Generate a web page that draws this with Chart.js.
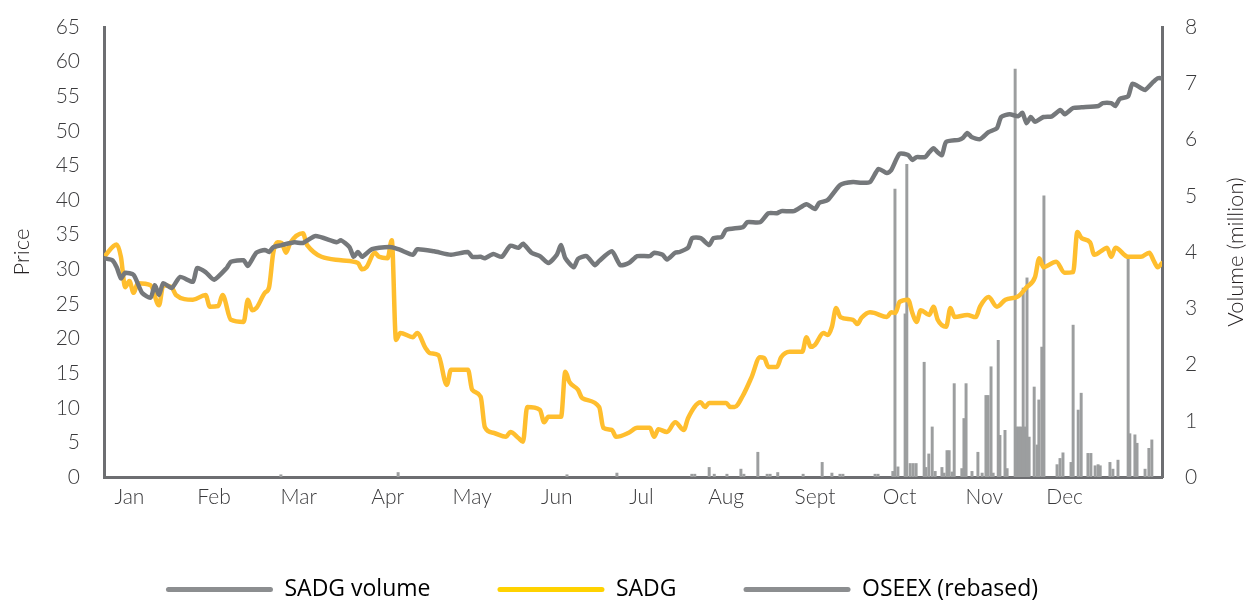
<!DOCTYPE html>
<html>
<head>
<meta charset="utf-8">
<title>SADG price and volume</title>
<script src="https://cdn.jsdelivr.net/npm/chart.js@4.4.1/dist/chart.umd.min.js"></script>
<style>
  html, body { margin: 0; padding: 0; background: #fff; }
  #wrap { width: 1246px; height: 601px; }
</style>
</head>
<body>
<div id="wrap"><canvas id="priceChart" width="1246" height="601"></canvas></div>
<script>
// x values are trading days from the start of the year
const monthLabels = ["Jan", "Feb", "Mar", "Apr", "May", "Jun", "Jul", "Aug", "Sept", "Oct", "Nov", "Dec"];
const monthTickDays = [6, 26, 46, 67, 87, 107, 127, 147, 168, 188, 208, 227];
const priceTicks = [0, 5, 10, 15, 20, 25, 30, 35, 40, 45, 50, 55, 60, 65];
const volumeTicks = [0, 1, 2, 3, 4, 5, 6, 7, 8];

// SADG share price [day, price]
const sadgPrice = [
    [0, 31.8], [3, 33.6], [4, 31.8], [5, 27.4], [6, 28.3], [7, 26.6], [8, 28.0], [11, 27.7],
    [13, 24.8], [14, 27.7], [16, 27.4], [17, 26.3], [21, 25.6], [24, 26.3], [25, 24.6], [27, 24.7],
    [28, 26.3], [30, 22.7], [33, 22.4], [34, 25.6], [35, 24.1], [36, 24.4], [38, 26.6], [39, 27.4],
    [40, 32.4], [41, 33.9], [42, 33.8], [43, 32.4], [44, 33.8], [47, 35.2], [48, 33.5], [56, 31.3],
    [60, 30.9], [61, 30.0], [62, 30.3], [64, 32.4], [65, 31.8], [67, 31.6], [68, 34.2], [69, 19.8],
    [70, 20.8], [73, 20.2], [74, 20.8], [76, 18.6], [77, 17.9], [79, 17.6], [81, 13.3], [82, 15.5],
    [86, 15.5], [87, 12.6], [89, 11.6], [90, 7.2], [92, 6.4], [95, 5.8], [96, 6.5], [98, 5.6],
    [99, 5.1], [100, 10.1], [103, 9.7], [104, 7.9], [105, 8.7], [108, 8.7], [109, 15.2], [110, 13.7],
    [112, 12.6], [113, 11.4], [117, 10.1], [118, 7.1], [120, 6.8], [121, 5.8], [124, 6.4], [126, 7.1],
    [129, 7.1], [130, 5.8], [131, 6.9], [133, 6.5], [135, 7.9], [137, 6.8], [138, 8.5], [141, 10.8],
    [142, 10.1], [143, 10.7], [147, 10.7], [148, 10.1], [149, 10.1], [151, 11.8], [153, 14.4], [155, 17.3],
    [156, 17.2], [157, 15.9], [159, 15.9], [160, 17.3], [162, 18.1], [165, 18.1], [166, 20.2], [167, 18.8],
    [168, 19.1], [170, 20.8], [171, 20.5], [172, 21.7], [173, 24.4], [174, 23.1], [177, 22.7], [178, 22.1],
    [179, 23.0], [181, 23.8], [182, 23.7], [185, 23.1], [186, 23.8], [187, 23.7], [188, 25.3], [190, 25.6],
    [191, 23.7], [192, 22.4], [193, 24.1], [195, 23.4], [196, 24.6], [197, 22.7], [199, 21.7], [200, 24.4],
    [201, 23.1], [204, 23.4], [206, 23.1], [207, 24.6], [209, 26.0], [211, 24.6], [213, 25.6], [216, 26.1],
    [218, 27.4], [220, 28.9], [221, 31.6], [222, 30.3], [225, 31.1], [227, 29.5], [229, 29.6], [230, 35.4],
    [231, 34.5], [233, 33.9], [234, 32.1], [236, 32.8], [237, 33.1], [238, 31.8], [239, 33.1], [242, 31.8],
    [245, 31.8], [247, 32.4], [248, 31.3], [249, 30.3], [250, 30.9]
];

// OSEEX rebased to SADG [day, value]
const oseexRebased = [
    [0, 31.6], [2, 31.3], [3, 30.3], [4, 28.7], [5, 29.5], [7, 29.2], [9, 26.6], [11, 25.9],
    [12, 27.7], [13, 26.3], [14, 28.0], [16, 27.3], [18, 28.9], [21, 28.2], [22, 30.2], [24, 29.6],
    [26, 28.5], [29, 30.2], [30, 31.1], [33, 31.3], [34, 30.5], [36, 32.4], [38, 32.8], [39, 32.5],
    [40, 33.2], [42, 33.5], [45, 33.9], [47, 33.8], [50, 34.8], [55, 33.9], [56, 34.2], [58, 33.2],
    [59, 31.8], [60, 32.5], [61, 31.8], [63, 32.8], [65, 33.1], [68, 33.2], [70, 32.8], [73, 32.1],
    [74, 32.9], [78, 32.6], [82, 32.1], [86, 32.5], [87, 31.8], [89, 31.8], [90, 31.6], [92, 32.2],
    [94, 31.8], [96, 33.4], [98, 33.1], [99, 33.7], [101, 32.4], [103, 31.9], [105, 30.9], [107, 32.1],
    [108, 33.5], [109, 31.6], [111, 30.3], [112, 31.5], [114, 31.9], [116, 30.6], [117, 31.2], [120, 32.6],
    [122, 30.6], [124, 30.9], [126, 31.9], [129, 31.9], [130, 32.4], [132, 32.1], [133, 31.4], [135, 32.4],
    [136, 32.5], [138, 33.1], [139, 34.5], [141, 34.5], [143, 33.5], [144, 34.5], [146, 34.7], [147, 35.7],
    [151, 36.1], [152, 36.8], [155, 36.8], [157, 38.1], [159, 38.1], [160, 38.4], [163, 38.4], [166, 39.4],
    [168, 38.7], [169, 39.6], [171, 40.0], [174, 42.2], [177, 42.6], [179, 42.5], [181, 42.6], [183, 44.5],
    [185, 43.9], [186, 44.3], [188, 46.7], [190, 46.5], [191, 45.8], [192, 46.2], [194, 46.2], [195, 46.9],
    [196, 47.5], [197, 46.9], [198, 46.5], [199, 48.4], [202, 48.7], [203, 49.0], [204, 49.7], [205, 49.1],
    [207, 48.8], [209, 49.8], [211, 50.4], [212, 52.0], [214, 52.4], [216, 52.1], [217, 52.6], [218, 51.1],
    [219, 52.0], [220, 51.3], [222, 52.0], [224, 52.1], [226, 53.0], [227, 52.4], [229, 53.3], [231, 53.4],
    [235, 53.6], [236, 54.0], [238, 54.0], [239, 53.6], [240, 54.6], [242, 55.0], [243, 56.8], [245, 56.2],
    [246, 55.9], [248, 57.1], [249, 57.6], [250, 57.6]
];

// SADG traded volume in million shares [day, volume]
const sadgVolume = [
    [41.8, 0.04], [69.5, 0.08], [109.4, 0.04], [121.2, 0.07], [138.9, 0.05], [139.6, 0.05], [143.0, 0.17],
    [144.2, 0.05], [147.2, 0.05], [150.5, 0.14], [151.2, 0.05], [154.5, 0.44], [156.7, 0.05], [157.4, 0.05],
    [159.2, 0.08], [165.2, 0.05], [169.7, 0.26], [172.0, 0.07], [173.9, 0.05], [174.6, 0.05], [182.2, 0.05],
    [182.9, 0.05], [186.4, 0.10], [186.9, 5.12], [187.6, 0.18], [189.3, 2.90], [189.7, 5.56], [190.5, 0.24],
    [191.2, 0.24], [191.9, 0.24], [193.8, 2.04], [194.2, 0.17], [194.9, 0.41], [195.7, 0.89], [196.4, 0.10],
    [198.0, 0.17], [198.5, 0.07], [199.2, 0.47], [199.7, 0.47], [200.4, 0.09], [200.9, 1.66], [202.7, 0.15],
    [203.2, 1.04], [203.7, 1.66], [205.1, 0.10], [206.5, 0.44], [207.5, 0.07], [208.4, 1.45], [208.9, 1.45],
    [209.6, 1.96], [210.1, 0.07], [211.3, 2.43], [211.7, 0.74], [212.9, 0.83], [213.4, 0.15], [215.3, 7.25],
    [215.7, 0.89], [216.2, 0.89], [216.7, 0.89], [217.2, 3.36], [217.6, 0.89], [218.1, 3.54], [218.6, 0.71],
    [219.8, 1.60], [220.5, 0.57], [220.9, 1.37], [221.6, 2.31], [222.1, 5.00], [225.2, 0.22], [225.9, 0.33],
    [226.6, 0.43], [228.5, 0.26], [229.0, 2.70], [230.2, 1.19], [230.9, 1.49], [232.5, 0.42], [233.2, 0.42],
    [234.2, 0.20], [234.9, 0.22], [235.4, 0.20], [237.7, 0.26], [238.4, 0.14], [239.6, 0.30], [242.0, 3.90],
    [242.4, 0.77], [243.6, 0.75], [244.1, 0.60], [246.0, 0.14], [246.9, 0.51], [247.6, 0.66]
];

const seriesNames = ["SADG volume", "SADG", "OSEEX (rebased)"];
const legendColors = ["#8c8e90", "#ffd200", "#8c8e90"];

const toXY = (rows) => rows.map(([x, y]) => ({ x: x, y: y }));

const axisColor = "#6d6e71";
const tickColor = "#3a3a3c";
const fontFamily = "Lato, 'Open Sans', sans-serif";
const legendFont = "'Open Sans', Lato, sans-serif";
const xAxisHeight = 34;
const legendGap = 67;

// right axis title reads bottom-to-top like the left one
const volumeTitle = {
    id: "volumeTitle",
    afterDraw(chart) {
        const ctx = chart.ctx;
        const area = chart.chartArea;
        ctx.save();
        ctx.translate(1236, (area.top + area.bottom) / 2);
        ctx.rotate(-Math.PI / 2);
        ctx.font = "300 22px " + fontFamily;
        ctx.fillStyle = "#231f20";
        ctx.textAlign = "center";
        ctx.textBaseline = "middle";
        ctx.fillText("Volume (million)", 0, 0);
        ctx.restore();
    }
};

// legend items sit at top + padding, so size the box to put the row near the bottom
const legendHeight = {
    id: "legendHeight",
    beforeLayout(chart) {
        const lg = chart.legend;
        if (lg && !lg._heightPatched) {
            const fit = lg.fit.bind(lg);
            lg.fit = function () {
                fit();
                this.height = 601 - 477 - xAxisHeight;
            };
            lg._heightPatched = true;
        }
    }
};

// y-axis tick padding would otherwise push the plot top down
const trimPadding = (scale) => {
    scale.paddingTop = 10;
    scale.paddingBottom = 10;
};

const ctx = document.getElementById("priceChart").getContext("2d");
new Chart(ctx, {
    type: "bar",
    data: {
        datasets: [
            {
                type: "bar",
                label: seriesNames[0],
                data: toXY(sadgVolume),
                yAxisID: "yVol",
                backgroundColor: "#9c9e9f",
                barThickness: 2.3,
                order: 3
            },
            {
                type: "line",
                label: seriesNames[1],
                data: toXY(sadgPrice),
                yAxisID: "y",
                borderColor: "#ffbe2e",
                borderWidth: 4.5,
                pointRadius: 0,
                cubicInterpolationMode: "monotone",
                borderJoinStyle: "round",
                borderCapStyle: "round",
                order: 2
            },
            {
                type: "line",
                label: seriesNames[2],
                data: toXY(oseexRebased),
                yAxisID: "y",
                borderColor: "#75787b",
                borderWidth: 4.5,
                pointRadius: 0,
                tension: 0.2,
                borderJoinStyle: "round",
                borderCapStyle: "round",
                order: 1
            }
        ]
    },
    options: {
        responsive: false,
        animation: false,
        // right padding only shifts the centred legend row; the axis width is reduced to match
        layout: { padding: { top: 27, left: 0, right: 42, bottom: 0 } },
        plugins: {
            tooltip: { enabled: false },
            legend: {
                position: "bottom",
                labels: {
                    boxWidth: 107,
                    boxHeight: 5,
                    padding: legendGap,
                    color: "#231f20",
                    font: { family: legendFont, size: 23 },
                    generateLabels: () => seriesNames.map((name, i) => ({
                        text: name,
                        fillStyle: legendColors[i],
                        strokeStyle: legendColors[i],
                        lineWidth: 0,
                        borderRadius: 2.5,
                        hidden: false,
                        datasetIndex: i
                    }))
                }
            }
        },
        scales: {
            x: {
                type: "linear",
                min: 0,
                max: 250,
                offset: false,
                grid: { display: false, drawTicks: false },
                border: { display: true, color: axisColor, width: 3 },
                afterBuildTicks: (scale) => {
                    scale.ticks = monthTickDays.map(v => ({ value: v }));
                },
                afterFit: (scale) => { scale.height = xAxisHeight; },
                ticks: {
                    autoSkip: false,
                    maxRotation: 0,
                    minRotation: 0,
                    padding: 8,
                    color: tickColor,
                    font: { family: fontFamily, size: 21, weight: 300 },
                    callback: (value, index) => monthLabels[index]
                }
            },
            y: {
                position: "left",
                min: 0,
                max: 65,
                grid: { display: false, drawTicks: false },
                border: { display: true, color: axisColor, width: 3 },
                afterBuildTicks: (scale) => {
                    scale.ticks = priceTicks.map(v => ({ value: v }));
                },
                afterFit: (scale) => { scale.width = 104; trimPadding(scale); },
                ticks: {
                    padding: 24,
                    color: tickColor,
                    font: { family: fontFamily, size: 21, weight: 300 }
                },
                title: {
                    display: true,
                    text: "Price",
                    color: "#231f20",
                    padding: { top: 11, bottom: 0 },
                    font: { family: fontFamily, size: 22, weight: 300, lineHeight: 1 }
                }
            },
            yVol: {
                position: "right",
                min: 0,
                max: 8,
                grid: { display: false, drawTicks: false },
                border: { display: true, color: axisColor, width: 3 },
                afterBuildTicks: (scale) => {
                    scale.ticks = volumeTicks.map(v => ({ value: v }));
                },
                afterFit: (scale) => { scale.width = 42; trimPadding(scale); },
                ticks: {
                    padding: 23,
                    color: tickColor,
                    font: { family: fontFamily, size: 21, weight: 300 }
                }
            }
        }
    },
    plugins: [legendHeight, volumeTitle]
});
</script>
</body>
</html>
